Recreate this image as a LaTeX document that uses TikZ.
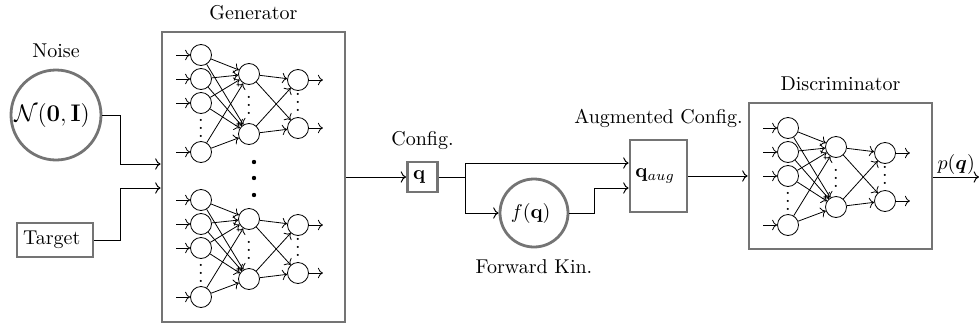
\documentclass[tikz,border=0pt]{standalone}
\usepackage{bm}
\usepackage{xcolor}
\usepackage{tikz}
\usetikzlibrary{
  arrows.meta,
  positioning,
  calc
}
\definecolor{BoxGray}{HTML}{747474}
\tikzset{
  block/.style={
    draw=BoxGray,
    line width=1.4pt,
    inner sep=0pt,
    align=center
  },
  unit/.style={
    circle,
    draw=BoxGray,
    line width=1.4pt,
    inner sep=0pt,
    align=center
  },
  neuron/.style={
    circle,
    draw,
    line width=0.4pt,
    minimum size=10.5pt,
    inner sep=0pt
  },
  dotsnode/.style={
    inner sep=0pt
  },
  edge/.style={
    ->,
    line width=0.4pt
  },
  connection/.style={
    ->,
    line width=0.5pt
  },
  pics/nnet/.style={
    code={
      \node[neuron] (-l1a) at (0,0) {};
      \node[neuron] (-l1b) at (0,-24) {};
      \node[neuron] (-l1c) at (0,-48) {};
      \node[neuron] (-l1d) at (0,-97) {};
      \node[neuron] (-l2a) at (48,-19) {};
      \node[neuron] (-l2b) at (48,-79) {};
      \node[neuron] (-l3a) at (97,-25) {};
      \node[neuron] (-l3b) at (97,-73) {};
      \node[dotsnode] (-d1) at (0,-67.5) {$\vdots$};
      \node[dotsnode] (-d2) at (48,-44.5) {$\vdots$};
      \node[dotsnode] (-d3) at (97,-41.5) {$\vdots$};
      % inputs and first layer
      \foreach \i in {a,b,c,d} {
        \draw[edge] (-l1\i.west) ++(-14,0) -- (-l1\i);
        \draw[edge] (-l1\i) -- (-l2a);
        \draw[edge] (-l1\i) -- (-l2b);
      }
      % second layer and outputs
      \foreach \i in {a,b} {
        \draw[edge] (-l2\i) -- (-l3a);
        \draw[edge] (-l2\i) -- (-l3b);
        \draw[edge] (-l3\i.east) -- ++(14,0);
      }
    }
  }
}

\begin{document}
\begin{tikzpicture}[
  x=0.5pt,
  y=0.5pt,
  label distance=2pt
]

  \useasboundingbox (0,0) rectangle (979,328);

  \node[
    unit,
    minimum size=45pt,
    label={above:Noise}
  ] (noise) at (56,213) {
    \large$\mathcal{N}(\mathbf{0},\mathbf{I})$
  };

  \node[
    block,
    minimum width=38pt,
    minimum height=17pt
  ] (target) at (55,88) {
    Target
  };

  \node[
    block,
    minimum width=91.5pt,
    minimum height=145pt,
    label={above:Generator}
  ] (gen) at (253.5,151) {};

  \pic (gtop) at (201,273) {nnet};
  \pic (gbot) at (201,128) {nnet};

  \foreach \yy in {166,150,133} {
    \fill (254,\yy) circle (1.1pt);
  }

  \coordinate (gin1) at (gen.west |- 0,164);
  \coordinate (gin2) at (gen.west |- 0,140);

  \draw[connection]
  (noise.east) -- ++(18,0) |- (gin1);

  \draw[connection]
  (target.east) -- ++(26,0) |- (gin2);

  \node[
    block,
    minimum size=15pt,
    label={above:Config.}
  ] (config) at (422.5,151) {
    $\mathbf{q}$
  };

  \draw[connection]
  (gen.east |- config) -- (config.west);

  \node[
    unit,
    minimum size=34pt,
    label={below:Forward Kin.}
  ] (fk) at (534,115) {
    $f(\mathbf{q})$
  };

  \node[
    block,
    minimum width=28.5pt,
    minimum height=36pt,
    label={above:Augmented Config.}
  ] (aug) at (658.5,152) {
    $\mathbf{q}_{aug}$
  };

  \coordinate (split) at ($(config.east)+(27,0)$);
  \coordinate (ain1) at (aug.west |- 0,165);
  \coordinate (ain2) at (aug.west |- 0,140);

  \draw[line width=0.5pt]
  (config.east) -- (split);

  \draw[connection]
  (split) |- (ain1);

  \draw[connection]
  (split) |- (fk.west);

  \draw[connection]
  (fk.east) -- ++(25,0) |- (ain2);

  \node[
    block,
    minimum width=91.5pt,
    minimum height=73pt,
    label={above:Discriminator}
  ] (disc) at (840.5,152) {};

  \pic (dnet) at (788,200) {nnet};

  \draw[connection]
  (aug.east) -- (disc.west |- aug.east);

  \coordinate (out) at (979,151);

  \draw[connection]
  (disc.east |- out) --
  node[
    midway,
    above,
    inner sep=1pt
  ] {
    $p(\bm{q})$
  }
  (out);

\end{tikzpicture}
\end{document}
